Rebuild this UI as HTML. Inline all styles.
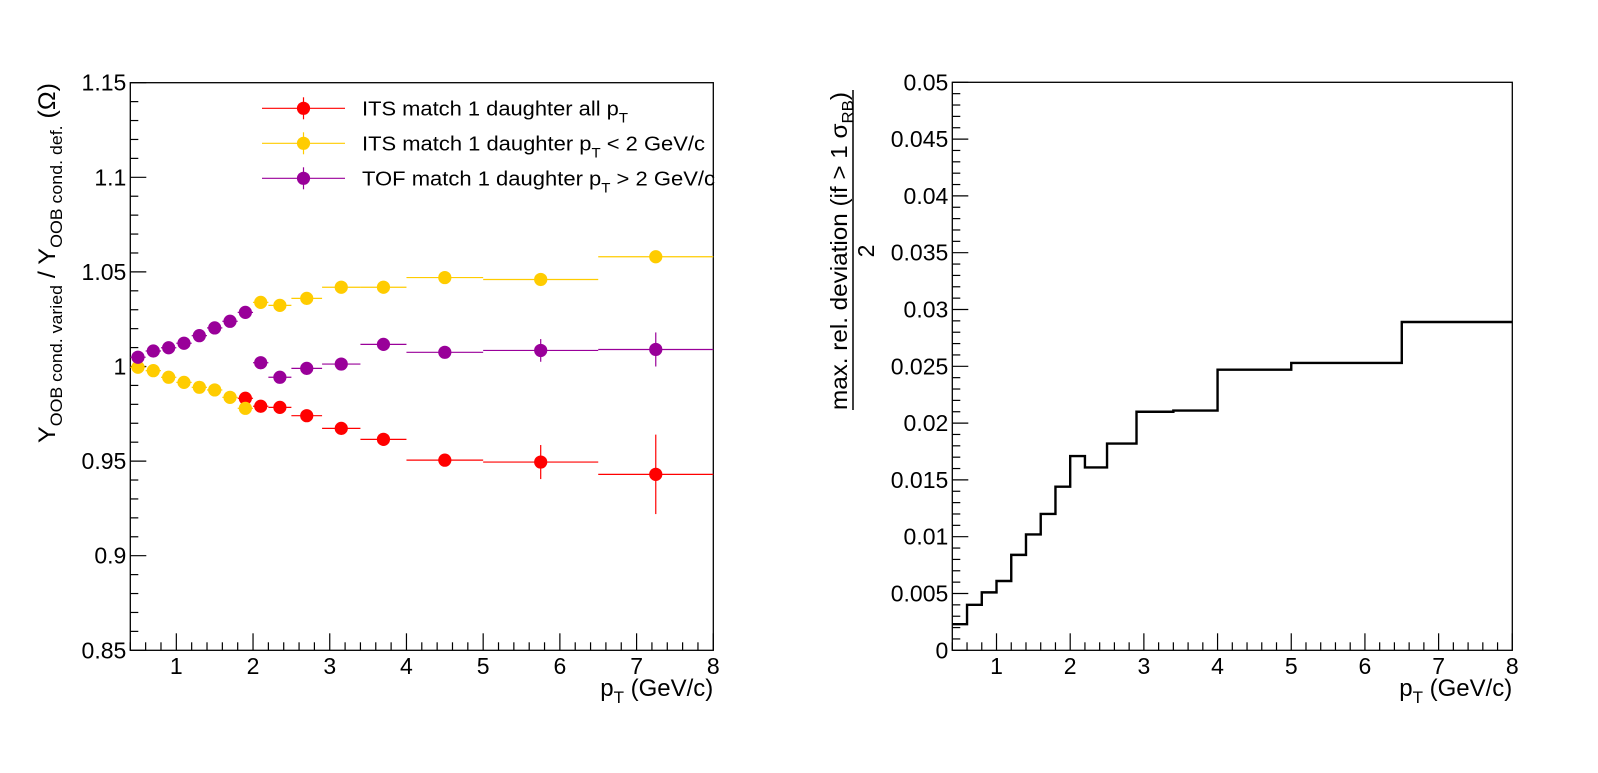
<!DOCTYPE html>
<html><head><meta charset="utf-8"><style>
html,body{margin:0;padding:0;background:#fff;}
svg{display:block;font-family:"Liberation Sans",Arial,sans-serif;}
</style></head><body>
<svg id="svg" width="1598" height="773" xmlns="http://www.w3.org/2000/svg">
<g id="left"></g>
<g id="right"></g>
</svg>
<script>
// ---- data ----
const binEdges = [0.4,0.6,0.8,1.0,1.2,1.4,1.6,1.8,2.0,2.2,2.5,2.9,3.4,4.0,5.0,6.5,8.0];
const redX = [1.9,2.1,2.35,2.7,3.15,3.7,4.5,5.75,7.25];
const redBins = [7,8,9,10,11,12,13,14,15];
const redY = [0.9832,0.979,0.9784,0.974,0.9673,0.9615,0.9505,0.9495,0.943];
const redErr = [0.002,0.002,0.002,0.002,0.002,0.002,0.002,0.009,0.021];
const yelBins = [0,1,2,3,4,5,6,7,8,9,10,11,12,13,14,15];
const yelY = [0.9996,0.9978,0.9943,0.9916,0.989,0.9876,0.9837,0.9779,1.0339,1.0323,1.036,1.0419,1.0419,1.047,1.046,1.058];
const yelErr = [0.001,0.001,0.001,0.001,0.001,0.001,0.001,0.001,0.0015,0.0015,0.0015,0.0015,0.0015,0.0015,0.002,0.002];
const purBins = [0,1,2,3,4,5,6,7,8,9,10,11,12,13,14,15];
const purY = [1.0049,1.0082,1.0099,1.0123,1.0163,1.0204,1.0239,1.0286,1.002,0.9943,0.999,1.0013,1.0117,1.0075,1.0085,1.009];
const purErr = [0.001,0.001,0.001,0.001,0.001,0.001,0.001,0.001,0.002,0.002,0.002,0.002,0.002,0.002,0.006,0.009];
const devVals = [0.0023,0.0040,0.0051,0.0061,0.0084,0.0102,0.0120,0.0144,0.0171,0.0161,0.0182,0.0210,0.0211,0.0247,0.0253,0.0289];
const leftYTicks = ["0.85","0.9","0.95","1","1.05","1.1","1.15"];
const rightYTicks = ["0","0.005","0.01","0.015","0.02","0.025","0.03","0.035","0.04","0.045","0.05"];
const xTicks = ["1","2","3","4","5","6","7","8"];

const NS="http://www.w3.org/2000/svg";
function mk(parent,tag,attrs){const e=document.createElementNS(NS,tag);for(const k in attrs)e.setAttribute(k,attrs[k]);parent.appendChild(e);return e;}

const L={x0:130.3,x1:713.3,y0:650.3,y1:82.7,xmin:0.4,xmax:8,ymin:0.85,ymax:1.15};
const R={x0:952.3,x1:1512.3,y0:650.3,y1:82.3,xmin:0.4,xmax:8,ymin:0,ymax:0.05};
function sx(A,v){return A.x0+(v-A.xmin)/(A.xmax-A.xmin)*(A.x1-A.x0);}
function sy(A,v){return A.y0-(v-A.ymin)/(A.ymax-A.ymin)*(A.y0-A.y1);}

function frame(g,A,yTicks,yMinorStep){
  const f=mk(g,'rect',{x:A.x0,y:A.y1,width:A.x1-A.x0,height:A.y0-A.y1,fill:'none',stroke:'#000','stroke-width':1.3});
  
  
  for(let i=0;i<=38;i++){const v=0.4+i*0.2;if(v>8.001)break;const X=sx(A,v);
    const major=Math.abs(v-Math.round(v))<1e-6;
    const t=mk(g,'line',{x1:X,x2:X,y1:A.y0,y2:A.y0-(major?17:8),stroke:'#000','stroke-width':1.2});
    
    
  }
  xTicks.forEach(s=>{const X=sx(A,+s);
    const t=mk(g,'text',{x:X,y:674,'font-size':23,'text-anchor':'middle'});t.textContent=s;
    
    
  });
  const n=Math.round((A.ymax-A.ymin)/yMinorStep);
  for(let i=0;i<=n;i++){const v=A.ymin+i*yMinorStep;const Y=sy(A,v);
    const major=i%5===0;
    const t=mk(g,'line',{x1:A.x0,x2:A.x0+(major?16:8),y1:Y,y2:Y,stroke:'#000','stroke-width':1.2});
    
    
  }
  yTicks.forEach(s=>{const Y=sy(A,+s);
    const t=mk(g,'text',{x:A.x0-4,y:Y+8,'font-size':23,'text-anchor':'end'});t.textContent=s;
    
    
  });
  const xt=mk(g,'text',{x:A.x1,y:696,'font-size':24,'text-anchor':'end'});
  xt.innerHTML='p<tspan font-size="17" dy="7">T</tspan><tspan dy="-7"> (GeV/c)</tspan>';
  
  
}

const gl=document.getElementById('left');
frame(gl,L,leftYTicks,0.01);
const yt=mk(gl,'text',{transform:'translate(55,83) rotate(-90)','font-size':24,'text-anchor':'end',textLength:360,lengthAdjust:'spacingAndGlyphs'});
yt.innerHTML='Y<tspan font-size="17" dy="7">OOB cond. varied</tspan><tspan dy="-7"> / Y</tspan><tspan font-size="17" dy="7">OOB cond. def.</tspan><tspan dy="-7">  (Ω)</tspan>';



function series(bins,vals,errs,color,name){
  const g=mk(gl,'g',{});
  
  
  bins.forEach((b,i)=>{
    const xc=(binEdges[b]+binEdges[b+1])/2;
    const X=sx(L,xc),Y=sy(L,vals[i]);
    const h=mk(g,'line',{x1:sx(L,binEdges[b]),x2:sx(L,binEdges[b+1]),y1:Y,y2:Y,stroke:color,'stroke-width':1.2});
    
    
    const v=mk(g,'line',{x1:X,x2:X,y1:sy(L,vals[i]+errs[i]),y2:sy(L,vals[i]-errs[i]),stroke:color,'stroke-width':1.2});
    
    
    const c=mk(g,'circle',{cx:X,cy:Y,r:6.6,fill:color});
    
    
  });
}
series(redBins,redY,redErr,'#ff0000','series-its-all-pt');
series(yelBins,yelY,yelErr,'#ffcc00','series-its-low-pt');
series(purBins,purY,purErr,'#990099','series-tof-high-pt');

const legItems=[['#ff0000','ITS match 1 daughter all p','',108.3,266],['#ffcc00','ITS match 1 daughter p',' < 2 GeV/c',143.3,343],['#990099','TOF match 1 daughter p',' > 2 GeV/c',178.3,353]];
legItems.forEach(it=>{
  const g=mk(gl,'g',{});
  
  
  mk(g,'line',{x1:262,x2:345,y1:it[3],y2:it[3],stroke:it[0],'stroke-width':1.2});
  mk(g,'line',{x1:303.5,x2:303.5,y1:it[3]-11,y2:it[3]+11,stroke:it[0],'stroke-width':1.2});
  mk(g,'circle',{cx:303.5,cy:it[3],r:6.6,fill:it[0]});
  const t=mk(g,'text',{x:362,y:it[3]+7,'font-size':20.5,textLength:it[4],lengthAdjust:'spacingAndGlyphs'});
  t.innerHTML=it[1]+'<tspan font-size="14" dy="7">T</tspan><tspan dy="-7">'+it[2]+'</tspan>';
});

const gr=document.getElementById('right');
frame(gr,R,rightYTicks,0.001);
let d='';
devVals.forEach((v,i)=>{
  const X0=sx(R,binEdges[i]),X1=sx(R,binEdges[i+1]),Y=sy(R,v);
  d+=(i===0?'M'+X0+','+Y:'L'+X0+','+Y)+'L'+X1+','+Y;
});
const hp=mk(gr,'path',{d:d,fill:'none',stroke:'#000','stroke-width':2.4});


const rt=mk(gr,'text',{transform:'translate(847,251) rotate(-90)','font-size':23,'text-anchor':'middle',textLength:318,lengthAdjust:'spacingAndGlyphs'});
rt.innerHTML='max. rel. deviation (if &gt; 1 σ<tspan font-size="16" dy="6">RB</tspan><tspan dy="-6">)</tspan>';


const fl=mk(gr,'line',{x1:853,x2:853,y1:90,y2:410,stroke:'#000','stroke-width':1.5});


const rd=mk(gr,'text',{transform:'translate(874,251) rotate(-90)','font-size':23,'text-anchor':'middle'});
rd.textContent='2';


</script>
</body></html>
